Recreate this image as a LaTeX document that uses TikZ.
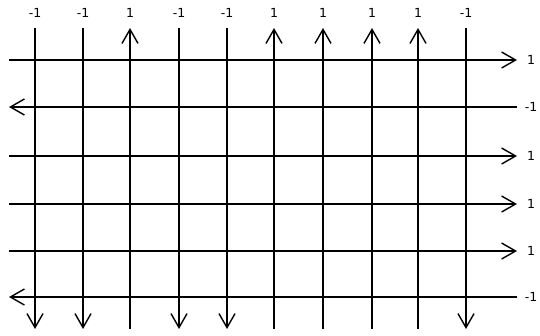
\documentclass[tikz,border=0pt]{standalone}
\usepackage{fontspec}
\setmainfont{DejaVu Sans}
\usetikzlibrary{arrows.meta}
\begin{document}
\begin{tikzpicture}[x=1pt, y=-1pt, line width=1.7pt,
  spin/.style={-{Straight Barb[length=14pt, width=16pt, line width=1.4pt]}},
  lbl/.style={font=\fontsize{12.5}{14}\selectfont, inner sep=0pt}]
  \useasboundingbox (0,0) rectangle (540,335);

  % Columns: spin value on top, arrow up for 1, down for -1
  \foreach \x/\s [count=\i] in {35/-1, 83/-1, 130/1, 179/-1, 227/-1, 274/1, 323/1, 372/1, 418/1, 466/-1} {
    \coordinate (ct\i) at (\x,28);
    \coordinate (cb\i) at (\x,329);
    \node[lbl] (sc\i) at (\x,13) {\s};
    \ifnum\s=1
      \draw[spin] (cb\i) -- (ct\i);
    \else
      \draw[spin] (ct\i) -- (cb\i);
    \fi
  }

  % Rows: spin value on the right, arrow right for 1, left for -1
  \foreach \y/\s [count=\j] in {60/1, 107/-1, 156/1, 204/1, 251/1, 297/-1} {
    \coordinate (rl\j) at (9,\y);
    \coordinate (rr\j) at (517,\y);
    \node[lbl] (sr\j) at (531,\y) {\s};
    \ifnum\s=1
      \draw[spin] (rl\j) -- (rr\j);
    \else
      \draw[spin] (rr\j) -- (rl\j);
    \fi
  }
\end{tikzpicture}
\end{document}
